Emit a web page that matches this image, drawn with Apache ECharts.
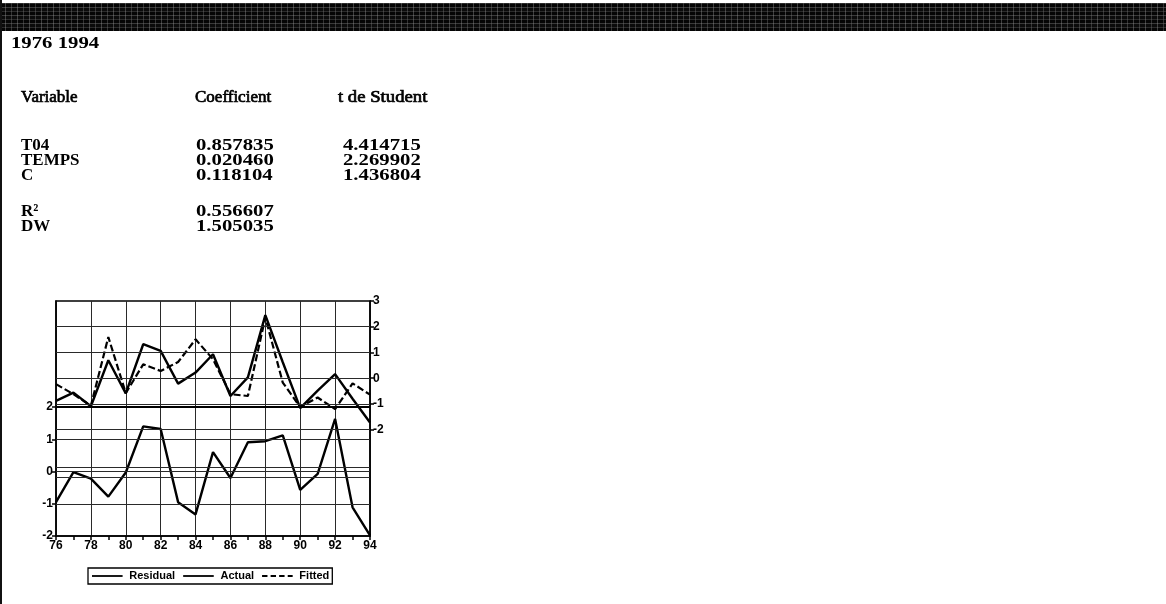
<!DOCTYPE html>
<html>
<head>
<meta charset="utf-8">
<script src="https://cdn.jsdelivr.net/npm/echarts@6/dist/echarts.min.js"></script>
<style>
  html,body{margin:0;padding:0;background:#fff;}
  #page{position:relative;width:1166px;height:604px;overflow:hidden;background:#fff;}
  #band{position:absolute;left:0;top:3px;width:1166px;height:28px;
    background:
      repeating-linear-gradient(90deg, rgba(255,255,255,0) 0 5px, rgba(170,170,170,.35) 5px 6px, rgba(255,255,255,0) 6px 11px, rgba(120,120,120,.4) 11px 12px),
      repeating-linear-gradient(0deg, #050505 0 3px, #2b2b2b 3px 4px, #0b0b0b 4px 7px, #3a3a3a 7px 8px);}
  #lborder{position:absolute;left:0;top:0;width:2px;height:604px;background:#111;}
  .t{position:absolute;white-space:nowrap;font-family:"Liberation Serif","DejaVu Serif",serif;font-weight:bold;font-size:17px;line-height:20px;color:#000;transform-origin:left center;}
  .n{transform:scaleX(1.22);}
  .h{font-weight:normal;-webkit-text-stroke:0.7px #000;}
  .hw{transform:scaleX(1.1);}
  #chart{position:absolute;left:0;top:0;width:1166px;height:604px;}
</style>
</head>
<body>
<div id="page">
  <div id="band"></div>
  <div id="lborder"></div>
  <div id="chart"></div>
  <div id="texts"></div>
</div>
<script>
// ---- data ----
var years = ['76','77','78','79','80','81','82','83','84','85','86','87','88','89','90','91','92','93','94'];
var residual = [-0.95,-0.02,-0.22,-0.78,-0.03,1.40,1.32,-0.95,-1.33,0.60,-0.20,0.91,0.94,1.12,-0.57,-0.07,1.63,-1.11,-1.98];
var actual   = [-0.88,-0.56,-1.09,0.70,-0.59,1.32,1.06,-0.21,0.22,0.93,-0.69,0.03,2.45,0.62,-1.16,-0.48,0.16,-0.80,-1.72];
var fitted   = [-0.23,-0.62,-1.07,1.60,-0.58,0.54,0.28,0.63,1.51,0.74,-0.62,-0.69,2.36,-0.17,-1.12,-0.75,-1.20,-0.20,-0.64];
var leftTicks = [-2,-1,0,1,2];
var rightTicks = [-2,-1,0,1,2,3];
var residBands = [0.14,-0.17];

var period = '1976 1994';
var headers = ['Variable','Coefficient','t de Student'];
var varNames = ['T04','TEMPS','C'];
var coefs = ['0.857835','0.020460','0.118104'];
var tstats = ['4.414715','2.269902','1.436804'];
var statNames = ['R\u00b2','DW'];
var statValues = ['0.556607','1.505035'];

// ---- text block ----
var T = document.getElementById('texts');
function addText(str, x, yc, cls){
  var d = document.createElement('div');
  d.className = 't' + (cls ? ' ' + cls : '');
  d.textContent = str;
  d.style.left = x + 'px';
  d.style.top = (yc - 10) + 'px';
  T.appendChild(d);
}
addText(period, 11, 43, 'n');
var colX = [21, 195, 338];
headers.forEach(function(h,i){ addText(h, colX[i], 97, 'h' + (i===2 ? ' hw' : '')); });
var rowY = [145,160,175];
varNames.forEach(function(v,i){
  addText(v, 21, rowY[i]);
  addText(coefs[i], 196, rowY[i], 'n');
  addText(tstats[i], 343, rowY[i], 'n');
});
var statY = [211,226];
statNames.forEach(function(s,i){
  addText(s, 21, statY[i]);
  addText(statValues[i], 196, statY[i], 'n');
});

// ---- chart ----
var chart = echarts.init(document.getElementById('chart'), null, {renderer:'canvas'});
var axisFont = {color:'#000', fontFamily:'Liberation Sans, Arial, sans-serif', fontWeight:'bold', fontSize:12};
var legendFont = {color:'#000', fontFamily:'Liberation Sans, Arial, sans-serif', fontWeight:'bold', fontSize:11, lineHeight:12};
var gridLine = {color:'#2a2a2a', width:1, type:'solid'};

var leftLines = leftTicks.filter(function(v){return v > -2;}).map(function(v){
  return {yAxis:v, lineStyle:(v===2 ? {color:'#000', width:2, type:'solid'} : gridLine)};
}).concat(residBands.map(function(v){ return {yAxis:v, lineStyle:gridLine}; }));
var rightLines = rightTicks.filter(function(v){return v < 3;}).map(function(v){
  return {yAxis:v, lineStyle:gridLine};
});

var solidIcon = 'path://M0,0h34v2h-34z';
var dashIcon = 'path://M0,0h6v2h-6zM9.5,0h6v2h-6zM19,0h6v2h-6zM28.5,0h5.5v2h-5.5z';

var option = {
  animation:false,
  backgroundColor:'transparent',
  grid:{left:56, top:301, width:314, height:235, show:true, borderColor:'#000', borderWidth:1.5, backgroundColor:'transparent'},
  legend:{
    left:88, top:568, padding:[2,3,2,4], itemGap:8, itemWidth:34, itemHeight:1.8,
    borderColor:'#000', borderWidth:1.3,
    textStyle:legendFont,
    itemStyle:{color:'#000'},
    data:[{name:'Residual', icon:solidIcon},{name:'Actual', icon:solidIcon},{name:'Fitted', icon:dashIcon}]
  },
  xAxis:{
    type:'category', data:years, boundaryGap:false,
    axisLine:{show:true, onZero:false, lineStyle:{color:'#000', width:1.5}},
    axisTick:{show:true, interval:0, length:4, lineStyle:{color:'#000', width:1.5}},
    axisLabel:Object.assign({interval:1, margin:4}, axisFont),
    splitLine:{show:true, interval:1, lineStyle:gridLine}
  },
  yAxis:[
    {type:'value', min:-2, max:5.29, position:'left',
     axisLine:{show:true, lineStyle:{color:'#000', width:1.5}},
     axisTick:{show:true, customValues:leftTicks, length:4, lineStyle:{color:'#000', width:1.5}},
     axisLabel:Object.assign({customValues:leftTicks, margin:3}, axisFont),
     splitLine:{show:false}},
    {type:'value', min:-6.13, max:3, position:'right',
     axisLine:{show:true, lineStyle:{color:'#000', width:1.5}},
     axisTick:{show:true, customValues:rightTicks, length:4, lineStyle:{color:'#000', width:1.5}},
     axisLabel:Object.assign({customValues:rightTicks, margin:3}, axisFont),
     splitLine:{show:false}}
  ],
  series:[
    {name:'Residual', type:'line', yAxisIndex:0, data:residual, symbol:'none',
     lineStyle:{color:'#000', width:2.4}, itemStyle:{color:'#000'},
     markLine:{silent:true, symbol:'none', label:{show:false}, data:leftLines, animation:false}},
    {name:'Actual', type:'line', yAxisIndex:1, data:actual, symbol:'none',
     lineStyle:{color:'#000', width:2.4}, itemStyle:{color:'#000'},
     markLine:{silent:true, symbol:'none', label:{show:false}, data:rightLines, animation:false}},
    {name:'Fitted', type:'line', yAxisIndex:1, data:fitted, symbol:'none',
     lineStyle:{color:'#000', width:2.2, type:[7,3]}, itemStyle:{color:'#000'}}
  ]
};
chart.setOption(option);
</script>
</body>
</html>
